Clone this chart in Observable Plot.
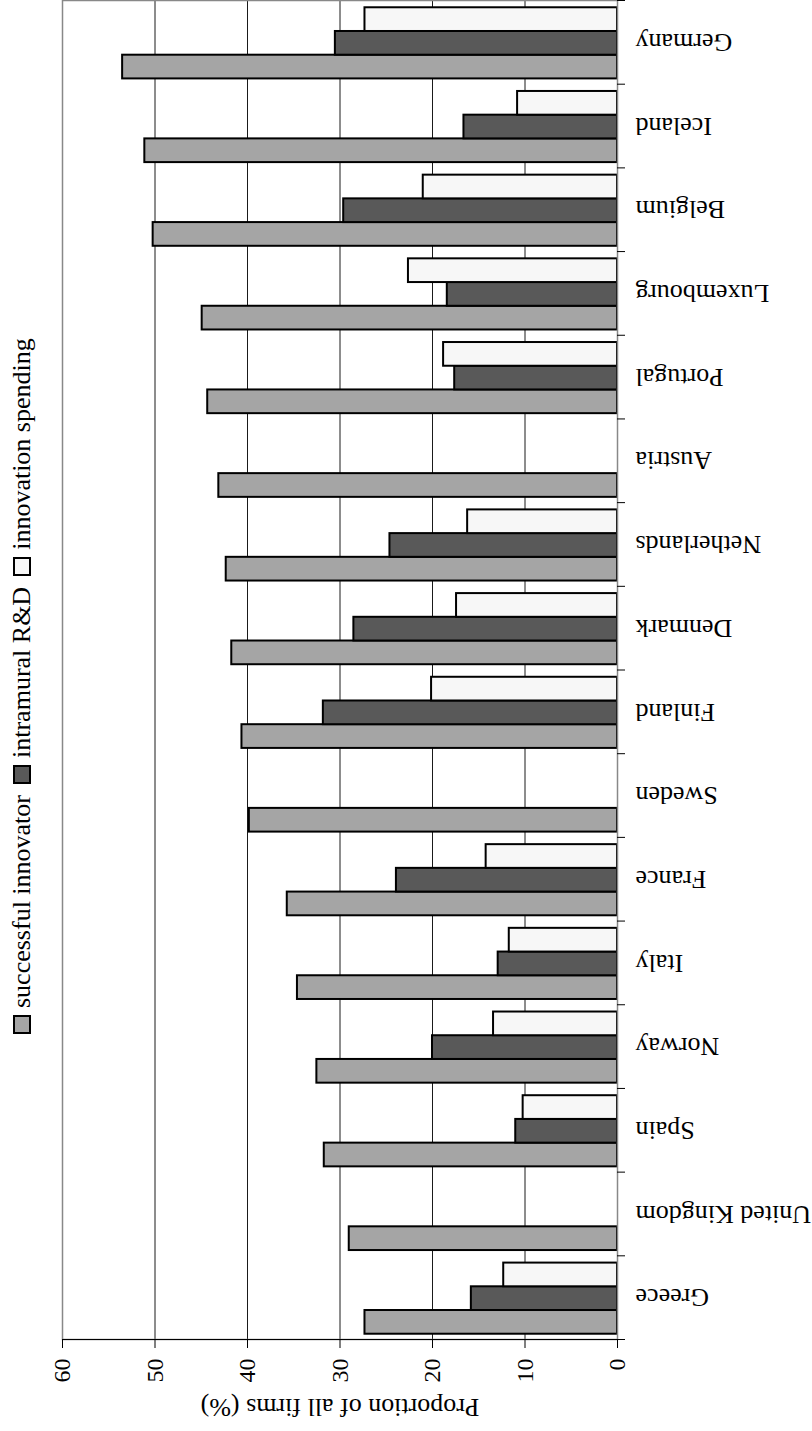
<!DOCTYPE html>
<html><head><meta charset="utf-8">
<script src="https://cdn.jsdelivr.net/npm/d3@7"></script>
<script src="https://cdn.jsdelivr.net/npm/@observablehq/plot@0.6"></script>
<style>
html,body{margin:0;padding:0;background:#fff;overflow:hidden;width:812px;height:1431px;}
#rot{position:absolute;left:0;top:0;width:1431px;height:812px;transform-origin:0 0;transform:translateY(1431px) rotate(-90deg);font-family:"Liberation Serif","Times New Roman",serif;background:#fff;}
#legend{height:44px;display:flex;align-items:center;padding-left:397px;box-sizing:border-box;font-size:26px;color:#000;white-space:nowrap;}
.item{display:flex;align-items:center;margin-right:11px;}
.sw{width:15px;height:14px;border:2px solid #000;margin-right:7px;}
#chart svg text{font-family:"Liberation Serif","Times New Roman",serif;}
</style></head><body><div id="rot"><div id="legend"></div><div id="chart"></div></div>
<script>
const countries = ["Greece","United Kingdom","Spain","Norway","Italy","France","Sweden","Finland","Denmark","Netherlands","Austria","Portugal","Luxembourg","Belgium","Iceland","Germany"];
const seriesNames = ["successful innovator","intramural R&D","innovation spending"];
const seriesColors = ["#a5a5a5","#595959","#f7f7f7"];
const successful = [27.3,29.0,31.7,32.5,34.6,35.7,39.8,40.6,41.7,42.3,43.1,44.3,44.9,50.2,51.1,53.5];
const intramural = [15.8,null,11.0,20.0,12.9,23.9,null,31.8,28.5,24.6,null,17.6,18.4,29.6,16.6,30.5];
const spending = [12.3,null,10.2,13.4,11.7,14.2,null,20.1,17.4,16.2,null,18.8,22.6,21.0,10.8,27.3];
const yTicks = [0,10,20,30,40,50,60];
const gridTicks = [10,20,30,40,50];
const yLabel = "Proportion of all firms (%)";
const FONT = "'Liberation Serif','Times New Roman',serif";

// legend
const legend = document.getElementById("legend");
seriesNames.forEach((name, i) => {
  const it = document.createElement("div"); it.className = "item";
  const sw = document.createElement("div"); sw.className = "sw"; sw.style.background = seriesColors[i];
  const tx = document.createElement("span"); tx.textContent = name;
  it.appendChild(sw); it.appendChild(tx); legend.appendChild(it);
});

const W = 1431, H = 768, mL = 91, mR = 1, mT = 18, mB = 195;
const padIn = 0.15, padOut = 0.075;
const step = (W - mL - mR) / (countries.length - padIn + 2 * padOut);
const bw = step * (1 - padIn);
const third = bw / 3;

const seriesValues = [successful, intramural, spending];
const rows = seriesValues.map(arr => countries.map((c, i) => ({country: c, value: arr[i]})).filter(d => d.value != null));

const chart = Plot.plot({
  width: W, height: H,
  marginLeft: mL, marginRight: mR, marginTop: mT, marginBottom: mB,
  style: {fontFamily: FONT, background: "#fff", color: "#000", overflow: "visible"},
  x: {domain: countries, paddingInner: padIn, paddingOuter: padOut, round: false, axis: null},
  y: {domain: [0, 60], axis: null},
  marks: [
    Plot.gridY(gridTicks, {stroke: "#000", strokeOpacity: 1, strokeWidth: 0.9}),
    ...rows.map((r, i) => Plot.barY(r, {
      x: "country", y: "value", fill: seriesColors[i], stroke: "#000", strokeWidth: 2,
      insetLeft: i * third, insetRight: (2 - i) * third
    })),
    Plot.ruleY([0], {stroke: "#000", strokeWidth: 1}),
    Plot.frame({stroke: "#888", strokeWidth: 1.5}),
    Plot.frame({anchor: "left", stroke: "#000", strokeWidth: 1}),
    Plot.ruleX(countries, {x: d => d, dx: -step / 2, y1: 0, y2: 0, insetBottom: -8, stroke: "#000"}),
    Plot.ruleX(countries.slice(-1), {x: d => d, dx: step / 2, y1: 0, y2: 0, insetBottom: -8, stroke: "#000"}),
    Plot.axisX({tickSize: 0, tickRotate: -90, tickPadding: 18, fontSize: 26, fontFamily: FONT, label: null}),
    Plot.axisY({ticks: yTicks, tickSize: 8, tickPadding: 11, fontSize: 24, fontFamily: FONT, label: null, tickFormat: d => String(d)}),
    Plot.text([yLabel], {text: d => d, frameAnchor: "left", dx: -68, rotate: -90, textAnchor: "middle", lineAnchor: "middle", fontSize: 26, fontFamily: FONT})
  ]
});
document.getElementById("chart").appendChild(chart);
</script></body></html>
